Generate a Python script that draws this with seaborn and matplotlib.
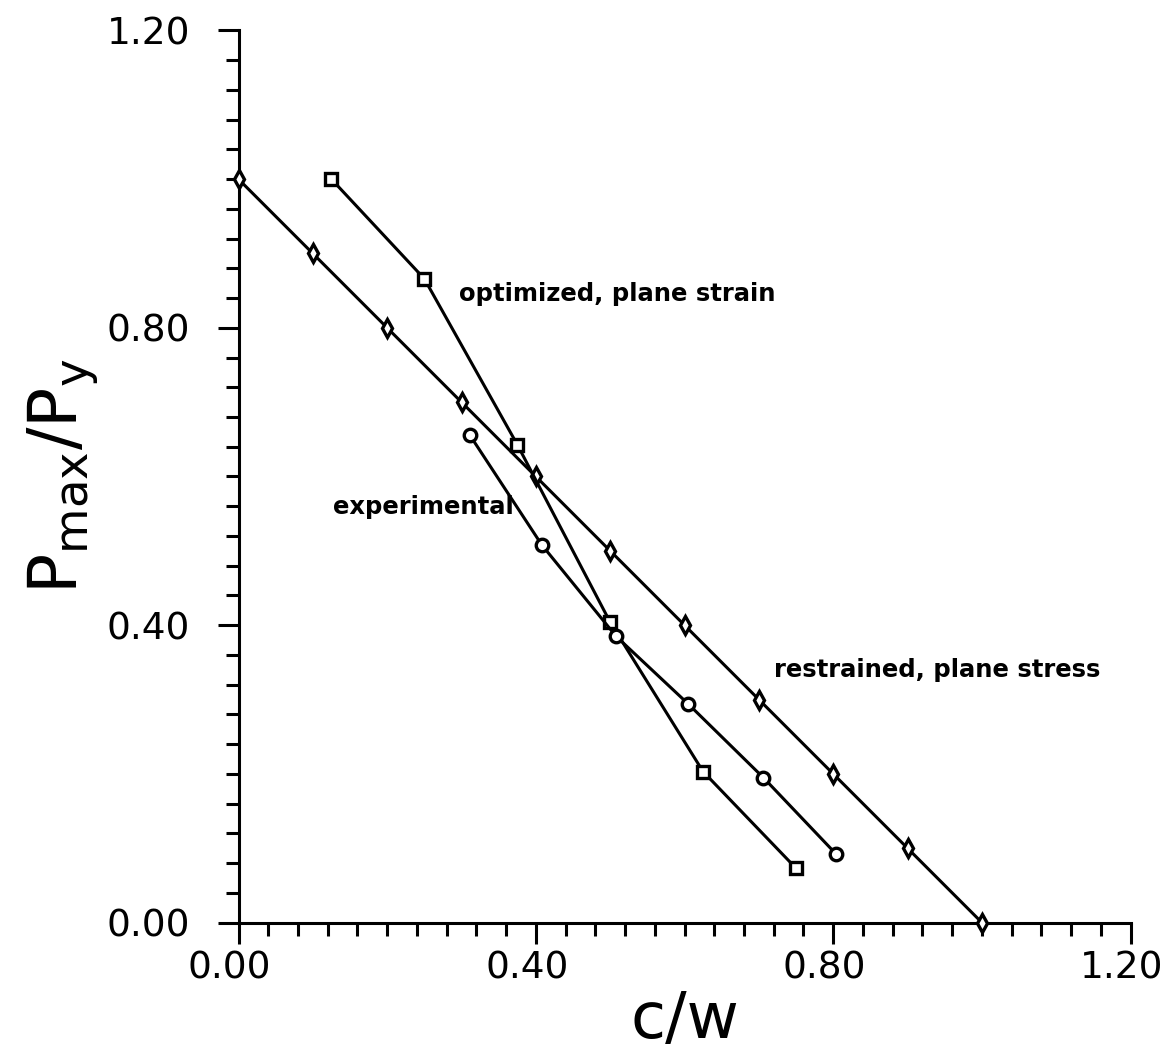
import matplotlib
matplotlib.use("Agg")
import matplotlib.pyplot as plt
import matplotlib.transforms as mtransforms
from matplotlib.ticker import MultipleLocator, FormatStrFormatter
import seaborn as sns
import pandas as pd

# data
restrained_x = [0.0, 0.1, 0.2, 0.3, 0.4, 0.5, 0.6, 0.7, 0.8, 0.9, 1.0]
restrained_y = [1.0, 0.9, 0.8, 0.7, 0.6, 0.5, 0.4, 0.3, 0.2, 0.1, 0.0]
optimized_x = [0.125, 0.25, 0.375, 0.50, 0.625, 0.75]
optimized_y = [1.0, 0.866, 0.643, 0.404, 0.203, 0.073]
experimental_x = [0.311, 0.408, 0.508, 0.605, 0.706, 0.804]
experimental_y = [0.656, 0.508, 0.385, 0.294, 0.195, 0.092]

labels = ["restrained, plane stress", "optimized, plane strain", "experimental"]
label_pos_x = [0.721, 0.297, 0.127]
label_pos_y = [0.340, 0.845, 0.559]

sns.set_style("ticks")
plt.rcParams['font.family'] = ['DejaVu Sans']
plt.rcParams['mathtext.default'] = 'regular'
for k in ["text.color", "axes.labelcolor", "xtick.color", "ytick.color", "axes.edgecolor"]:
    plt.rcParams[k] = "black"

W, H = 1172, 1052
fig = plt.figure(figsize=(W / 100, H / 100), dpi=100)
ax = fig.add_axes([238.5 / W, (H - 922.5) / H, 892 / W, 892 / H])

series = [
    (restrained_x, restrained_y, "d"),
    (optimized_x, optimized_y, "s"),
    (experimental_x, experimental_y, "o"),
]
for xs, ys, mk in series:
    df = pd.DataFrame({"x": xs, "y": ys})
    sns.lineplot(data=df, x="x", y="y", ax=ax, sort=False, color="black",
                 linewidth=2.2, marker=mk, markersize=9,
                 markerfacecolor="white", markeredgecolor="black", markeredgewidth=2.4,
                 zorder=3, clip_on=False)

for t, tx, ty in zip(labels, label_pos_x, label_pos_y):
    ax.text(tx, ty, t, fontsize=17.5, fontweight="bold", va="center", ha="left")

ax.set_xlim(0, 1.2)
ax.set_ylim(0, 1.2)
ax.xaxis.set_major_locator(MultipleLocator(0.4))
ax.yaxis.set_major_locator(MultipleLocator(0.4))
ax.xaxis.set_minor_locator(MultipleLocator(0.04))
ax.yaxis.set_minor_locator(MultipleLocator(0.04))
ax.xaxis.set_major_formatter(FormatStrFormatter("%.2f"))
ax.yaxis.set_major_formatter(FormatStrFormatter("%.2f"))
ax.tick_params(which="major", length=15, width=2.2, labelsize=27)
ax.tick_params(axis="x", which="major", pad=5)
ax.tick_params(axis="y", which="major", pad=20)
ax.tick_params(which="minor", length=9.5, width=2.2)
for s in ["top", "right"]:
    ax.spines[s].set_visible(False)
for s in ["left", "bottom"]:
    ax.spines[s].set_linewidth(2.2)

# x tick labels sit slightly left of their ticks in the reference
shift = mtransforms.ScaledTranslation(-0.09, 0, fig.dpi_scale_trans)
for lbl in ax.get_xticklabels():
    lbl.set_transform(lbl.get_transform() + shift)

ax.set_xlabel("c/w", fontsize=46, labelpad=2)
ax.set_ylabel("P$_{max}$/P$_y$", fontsize=48, labelpad=4)

fig.savefig("out.png", dpi=100)
